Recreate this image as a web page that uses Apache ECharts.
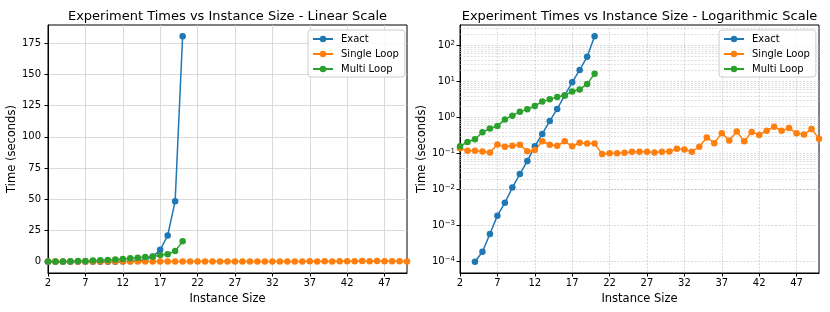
<!DOCTYPE html>
<html><head><meta charset="utf-8">
<script src="https://cdn.jsdelivr.net/npm/echarts@6/dist/echarts.min.js"></script>
<style>html,body{margin:0;padding:0;background:#fff}#c{width:830px;height:312px}</style>
</head><body><div id="c"></div>
<script>
// ---- data ----
const instanceSizes = [2,3,4,5,6,7,8,9,10,11,12,13,14,15,16,17,18,19,20,21,22,23,24,25,26,27,28,29,30,31,32,33,34,35,36,37,38,39,40,41,42,43,44,45,46,47,48,49,50];
const exactTimes = [0,0,0.0001,0.00019,0.00059,0.0019,0.0043,0.0114,0.027,0.062,0.16,0.35,0.80,1.74,4.1,9.5,21,48.5,180.5];
const singleLoopTimes = [0.14,0.12,0.12,0.115,0.107,0.18,0.155,0.165,0.175,0.117,0.125,0.22,0.175,0.165,0.22,0.16,0.20,0.19,0.19,0.097,0.103,0.103,0.105,0.112,0.113,0.112,0.108,0.112,0.114,0.136,0.13,0.113,0.155,0.28,0.195,0.37,0.23,0.41,0.22,0.40,0.33,0.43,0.56,0.43,0.51,0.37,0.34,0.48,0.26];
const multiLoopTimes = [0.16,0.21,0.25,0.39,0.50,0.58,0.89,1.13,1.46,1.69,2.1,2.77,3.2,3.75,4.07,5.3,6.0,8.6,16.3];
const seriesNames = ['Exact','Single Loop','Multi Loop'];
const xTicks = [2,7,12,17,22,27,32,37,42,47];
const linearTicks = [0,25,50,75,100,125,150,175];
const logTicks = [1e-4,1e-3,1e-2,1e-1,1,10,100];
const minorMantissas = [2,3,4,5,6,7,8,9];
const titles = ['Experiment Times vs Instance Size - Linear Scale','Experiment Times vs Instance Size - Logarithmic Scale'];

// ---- chart ----
const colors = ['#1f77b4','#ff7f0e','#2ca02c'];
const FONT = 'DejaVu Sans';
const linMin = -9.025, linMax = 189.525;
const logMin = 4.87e-5, logMax = 370;

function pairs(vals){ return vals.map((v,i)=>[instanceSizes[i], v]); }
const seriesData = [pairs(exactTimes), pairs(singleLoopTimes), pairs(multiLoopTimes)];

const minorVals = [];
[-5,-4,-3,-2,-1,0,1,2].forEach(d => minorMantissas.forEach(m => {
  const v = m * Math.pow(10, d);
  if (v > logMin && v < logMax) minorVals.push(v);
}));

function supExp(v){
  const e = Math.round(Math.log10(v));
  return '{b|10}{sup|' + (e < 0 ? '\u2212' + (-e) : String(e)) + '}';
}

const gridLeft = [48, 460];
function xAxisFor(i){
  return {
    type:'value', gridIndex:i, min:2, max:50,
    name:'Instance Size', nameLocation:'middle', nameGap:14,
    nameTextStyle:{fontSize:11.5, color:'#000', fontFamily:FONT},
    axisLine:{show:true, onZero:false, lineStyle:{color:'#000', width:1}},
    axisTick:{show:true, length:3.5, customValues:xTicks, lineStyle:{color:'#000', width:1}},
    axisLabel:{customValues:xTicks, fontSize:10, color:'#000', margin:5, fontFamily:FONT},
    splitLine:{show:true, lineStyle: i===0 ? {color:'#d0d0d0', width:0.8} : {color:'#c0c0c0', width:0.6, type:[2,1.5]}}
  };
}

const yAxes = [
  {
    type:'value', gridIndex:0, min:linMin, max:linMax,
    name:'Time (seconds)', nameLocation:'middle', nameGap:28,
    nameTextStyle:{fontSize:11.5, color:'#000', fontFamily:FONT},
    axisLine:{show:true, onZero:false, lineStyle:{color:'#000', width:1}},
    axisTick:{show:true, length:3.5, customValues:linearTicks, lineStyle:{color:'#000'}},
    axisLabel:{customValues:linearTicks, fontSize:10, color:'#000', margin:7, fontFamily:FONT},
    splitLine:{show:true, lineStyle:{color:'#d0d0d0', width:0.8}}
  },
  {
    type:'log', logBase:10, gridIndex:1, min:logMin, max:logMax,
    name:'Time (seconds)', nameLocation:'middle', nameGap:32,
    nameTextStyle:{fontSize:11.5, color:'#000', fontFamily:FONT},
    axisLine:{show:true, onZero:false, lineStyle:{color:'#000', width:1}},
    axisTick:{show:true, length:3.5, customValues:logTicks, lineStyle:{color:'#000'}},
    axisLabel:{customValues:logTicks, color:'#000', margin:5, fontFamily:FONT,
      formatter: supExp,
      rich:{ b:{fontSize:10, fontFamily:FONT, color:'#000'}, sup:{fontSize:7, fontFamily:FONT, color:'#000', verticalAlign:'top', padding:[0,0,5,0]} }
    },
    splitLine:{show:true, lineStyle:{color:'#c0c0c0', width:0.6, type:[2,1.5]}}
  }
];

const series = [];
[0,1].forEach(g => {
  seriesNames.forEach((name, k) => {
    const s = {
      name, type:'line', xAxisIndex:g, yAxisIndex:g,
      data: seriesData[k],
      symbol:'circle', symbolSize:6.5, clip:true,
      itemStyle:{color:colors[k]},
      lineStyle:{color:colors[k], width:1.5},
      emphasis:{disabled:true}
    };
    if (g === 1 && k === 0) {
      s.markLine = {
        silent:true, symbol:'none', z:1, animation:false,
        label:{show:false},
        lineStyle:{color:'#c8c8c8', width:0.6, type:[2,1.5]},
        data: minorVals.map(v => ({yAxis: v}))
      };
    }
    series.push(s);
  });
});

function legendAt(left){
  return {
    data: seriesNames, orient:'vertical', left, top:30,
    padding:[4,6,3,4], itemWidth:20, itemHeight:8, itemGap:5,
    backgroundColor:'rgba(255,255,255,0.85)', borderColor:'#cccccc', borderWidth:1, borderRadius:3,
    textStyle:{fontSize:10, lineHeight:10, color:'#000', fontFamily:FONT, padding:[0,0,0,3]},
    selectedMode:false
  };
}

const chart = echarts.init(document.getElementById('c'), null, {renderer:'canvas'});
chart.setOption({
  animation:false,
  textStyle:{fontFamily:FONT},
  title: titles.map((t,i) => ({
    text:t, left: gridLeft[i] + 179.5, top:10, padding:0, textAlign:'center',
    textStyle:{fontSize:13, fontWeight:'normal', color:'#000', fontFamily:FONT}
  })),
  grid: gridLeft.map(l => ({left:l, top:25, width:359, height:248, show:true, borderColor:'#000', borderWidth:1, backgroundColor:'transparent'})),
  xAxis: [xAxisFor(0), xAxisFor(1)],
  yAxis: yAxes,
  legend: [legendAt(308), legendAt(719)],
  series
});
</script></body></html>
